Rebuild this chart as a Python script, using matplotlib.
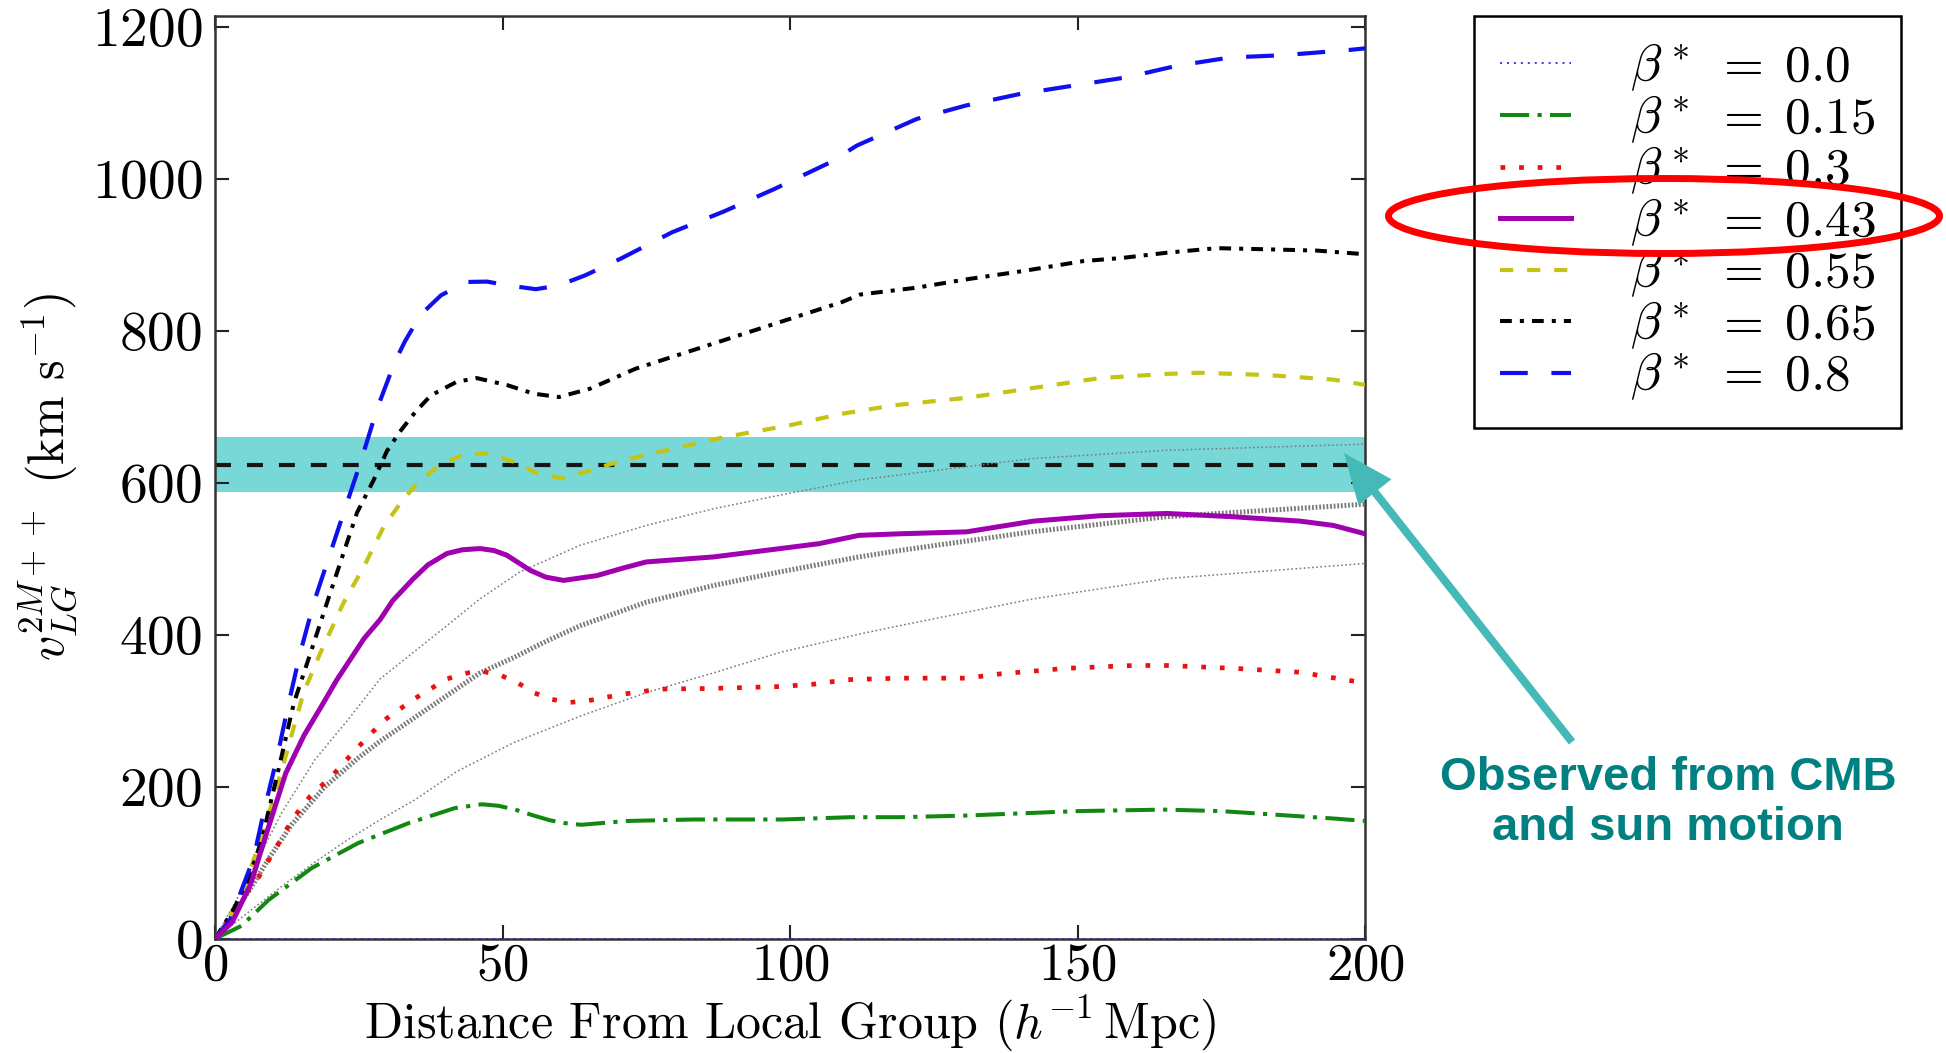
import numpy as np
import matplotlib
matplotlib.use("Agg")
import matplotlib.pyplot as plt
from matplotlib.patches import Ellipse, FancyArrow

plt.rcParams["font.family"] = "cmr10"
plt.rcParams["mathtext.fontset"] = "cm"
plt.rcParams["axes.formatter.use_mathtext"] = True
plt.rcParams["lines.scale_dashes"] = False

# ---------------- data ----------------
beta_labels = ["0.0", "0.15", "0.3", "0.43", "0.55", "0.65", "0.8"]

x_b00 = [0, 200]
y_b00 = [0, 0]

x_b15 = [0, 4.6, 9.3, 16.8, 24.9, 33.6, 41.7, 46.4, 49.3, 52.2, 55.5, 58.2, 61, 63.7, 71.5,
         83.2, 98.8, 110.5, 119, 130, 140, 150, 165, 175, 185, 195, 200]
y_b15 = [0, 17, 51, 93, 126, 152, 172, 177, 175, 170, 162, 156, 152, 150, 155,
         157, 157, 160, 160, 162, 165, 168, 170, 168, 163, 158, 155]

x_b30 = [0, 4.4, 7.5, 10.4, 13.6, 16.6, 20.3, 24.6, 29.3, 34.5, 40.3, 44, 46.5, 49.6, 52.5,
         55.4, 58.3, 61.5, 64.6, 71, 77.4, 86.7, 98.3, 104, 109.9, 119, 130.7, 136.5, 148.1,
         159.7, 165.5, 177, 188.7, 197.4, 200]
y_b30 = [0, 50, 80, 117, 159, 188, 214, 250, 287, 315, 342, 350, 352, 347, 337.5,
         324, 315.5, 311, 313, 322, 328.6, 329.5, 332, 335, 341, 343, 343, 348.6, 356,
         359.7, 359.7, 356, 350.8, 339.8, 337]

x_b43 = [0, 3, 6.2, 9, 12.3, 15.5, 18.5, 21.2, 25.9, 28.7, 30.9, 34.5, 37, 40.3, 43, 46.1,
         48.5, 50.7, 54.8, 57.5, 60.6, 66.4, 71, 75, 86.7, 98.3, 105, 112, 119, 130.7, 142.3,
         153.9, 165.5, 177, 188.7, 194.5, 200]
y_b43 = [0, 22, 72, 140, 218, 268, 306, 341, 395, 420, 445, 474, 492, 507, 512, 513.6,
         511, 505, 485, 476, 471.7, 478, 488, 496, 502.6, 513.6, 520, 531, 533, 535.6, 549.7,
         556.8, 559.8, 555.5, 549.7, 544, 533]

x_b55 = [0, 4.3, 8.7, 11.9, 15.4, 18.3, 22.4, 25.9, 29.3, 32.2, 35.1, 39.1, 43.2, 47.2, 51.9,
         56, 60.6, 64.6, 69.3, 75, 82.6, 87.8, 92, 100, 109, 117.9, 126.8, 130.7, 142.3, 153.9,
         165.5, 171.3, 182.9, 194.5, 200]
y_b55 = [0, 51, 148, 230, 324, 376, 443, 490, 542, 573, 599.5, 623.7, 637, 639, 628,
         612.7, 606, 615, 626, 637, 650, 659, 665, 676, 691, 702, 709, 712, 725, 738,
         743.5, 745, 742, 736, 729]

x_b65 = [0, 2.9, 5.8, 8.1, 10.8, 13.7, 16.6, 19.5, 22.4, 24.7, 27.6, 29.9, 32.1, 34.8, 37.5,
         42, 45.5, 50.9, 55.4, 59.8, 65.2, 73.2, 82, 91, 100, 109, 112.2, 122, 130.7, 140.6,
         151, 157.6, 165.5, 174.2, 182.9, 191.6, 200]
y_b65 = [0, 34, 78, 130, 215, 310, 376, 443, 509, 561, 604, 642, 667, 693, 715,
         733, 738, 728.5, 717.5, 713, 724, 750.5, 772, 794, 816, 838, 848, 857, 868, 879,
         892, 896, 903, 909, 907.5, 905.8, 901]

x_b80 = [0, 2.7, 6.7, 8.5, 10.8, 12.8, 14.8, 17.2, 20.1, 23, 25.3, 28.2, 31.25, 33, 35.7,
         39.3, 43.75, 47.3, 50.9, 55.8, 59.8, 64.3, 70.5, 79.5, 88.4, 97.3, 107, 111.6, 122,
         130.7, 140, 149.3, 158.6, 167.2, 176.5, 185.8, 197.4, 200]
y_b80 = [0, 26, 106, 168, 239, 310, 376, 443, 509, 575, 627, 698, 759, 786, 821,
         847, 864.5, 865, 860, 855, 860, 873, 895, 930, 957, 987, 1022, 1044, 1079,
         1097, 1112, 1123, 1134, 1149, 1160, 1163, 1170, 1172]

# grey reference curves
x_g1 = [0, 5.8, 11.6, 17.4, 23.2, 28.7, 34.5, 40.3, 46.1, 53, 63.5, 75, 86.7, 98.3, 112,
        119, 142, 165.5, 200]
y_g1 = [0, 80, 166, 236, 289, 342, 377, 412, 447.6, 482.8, 518, 544, 566, 584, 604,
        610.5, 632, 643, 651]

x_g2 = [0, 3, 6.4, 9.3, 13.3, 19.1, 24.9, 28.7, 34.5, 40.3, 46.1, 51.9, 57.7, 63.5, 75,
        86.7, 98.3, 112, 119, 142, 165.5, 200]
y_g2 = [0, 30, 69, 105, 150, 200, 238, 260, 290, 320, 350, 370, 392, 412, 443,
        465, 483, 502.6, 511, 535.6, 555.5, 572]

x_g3 = [0, 5.8, 11.6, 17.4, 23.2, 29, 34.8, 42, 51.9, 63.5, 75, 86.7, 98.3, 112, 119,
        142, 165.5, 200]
y_g3 = [0, 35, 69, 101, 131, 158, 183, 220, 258, 293, 324, 350, 377, 401, 412,
        447, 474, 494]

obs_value = 624
obs_low = 588
obs_high = 660

x_ticks = [0, 50, 100, 150, 200]
y_ticks = [0, 200, 400, 600, 800, 1000, 1200]

# ---------------- figure ----------------
W, H = 1946, 1053
fig = plt.figure(figsize=(W / 100, H / 100), dpi=100)
ax = fig.add_axes([0.1105, 0.1085, 0.591, 0.8766])

ax.axhspan(obs_low, obs_high, color="#78d8d8", lw=0, zorder=1)
ax.axhline(obs_value, color="#151515", lw=3, dashes=(11.5, 11.5), zorder=2)

grey = "#7a7a7a"
ax.plot(x_g1, y_g1, color=grey, lw=1.1, dashes=(1.2, 1.8), zorder=3)
ax.plot(x_g2, y_g2, color=grey, lw=3.6, dashes=(1.3, 1.3), zorder=3)
ax.plot(x_g3, y_g3, color=grey, lw=1.1, dashes=(1.2, 1.8), zorder=3)

lines = []
lines.append(ax.plot(x_b00, y_b00, color="#2020e0", lw=1.2, dashes=(1.5, 3.5), zorder=4)[0])
lines.append(ax.plot(x_b15, y_b15, color="#118811", lw=2.9, dashes=(21, 6, 3, 6), zorder=4)[0])
lines.append(ax.plot(x_b30, y_b30, color="#e81212", lw=3.4, dashes=(3.4, 10), zorder=4)[0])
lines.append(ax.plot(x_b43, y_b43, color="#a000b0", lw=3.6, zorder=5)[0])
lines.append(ax.plot(x_b55, y_b55, color="#c4c414", lw=3.0, dashes=(9.5, 10), zorder=4)[0])
lines.append(ax.plot(x_b65, y_b65, color="#000000", lw=2.9, dashes=(8.5, 5.8, 2.9, 5.8), zorder=4)[0])
lines.append(ax.plot(x_b80, y_b80, color="#1010ee", lw=3.0, dashes=(20, 17), zorder=4)[0])

ax.set_xlim(0, 200)
ax.set_ylim(0, 1215)
ax.set_xticks(x_ticks)
ax.set_yticks(y_ticks)
ax.tick_params(direction="in", length=10, width=1.5, top=True, right=True,
               labelsize=40, color="#222222")
ax.tick_params(axis="y", pad=9)
ax.tick_params(axis="x", pad=3, labelsize=38)
for s in ax.spines.values():
    s.set_linewidth(1.8)
    s.set_color("#333333")

ax.set_xlabel(r"Distance From Local Group ($h^{-1}\,$Mpc)", fontsize=36, va="center")
ax.xaxis.set_label_coords(0.5, -0.092)
ax.set_ylabel(r"$v_{LG}^{2M++}$ (km s$^{-1}$)", fontsize=36, va="center")
ax.yaxis.set_label_coords(-0.146, 0.5)

labels = [r"$\beta^*\ =\;%s$" % b for b in beta_labels]
leg = ax.legend(lines, labels, loc="upper left",
                bbox_to_anchor=(1474 / W, 1 - 16 / H), bbox_transform=fig.transFigure,
                fontsize=37, frameon=True, fancybox=False, framealpha=1,
                edgecolor="black", handlelength=1.38, handletextpad=1.15,
                labelspacing=0.0, borderpad=0.5, borderaxespad=0)
leg.get_frame().set_linewidth(1.8)

# red highlight ellipse around beta = 0.43
ell = Ellipse((1664 / W, 1 - 216 / H), 551 / W, 75 / H, transform=fig.transFigure,
              fill=False, edgecolor="#ff0000", lw=5, zorder=20)
fig.add_artist(ell)

# arrow pointing to observed band
tail = (1572, 742)
tip = (1344, 453)
arr = FancyArrow(tail[0] / 100, (H - tail[1]) / 100,
                 (tip[0] - tail[0]) / 100, (tail[1] - tip[1]) / 100,
                 width=0.08, head_width=0.42, head_length=0.5,
                 length_includes_head=True, color="#45b8b8", lw=0,
                 transform=fig.dpi_scale_trans, zorder=20)
fig.add_artist(arr)

fig.text(1668 / W, 1 - 803 / H, "Observed from CMB\nand sun motion",
         ha="center", va="center", fontsize=34, fontweight="bold",
         family="Liberation Sans", color="#008080", linespacing=1.17)

fig.savefig("out.png", dpi=100)
